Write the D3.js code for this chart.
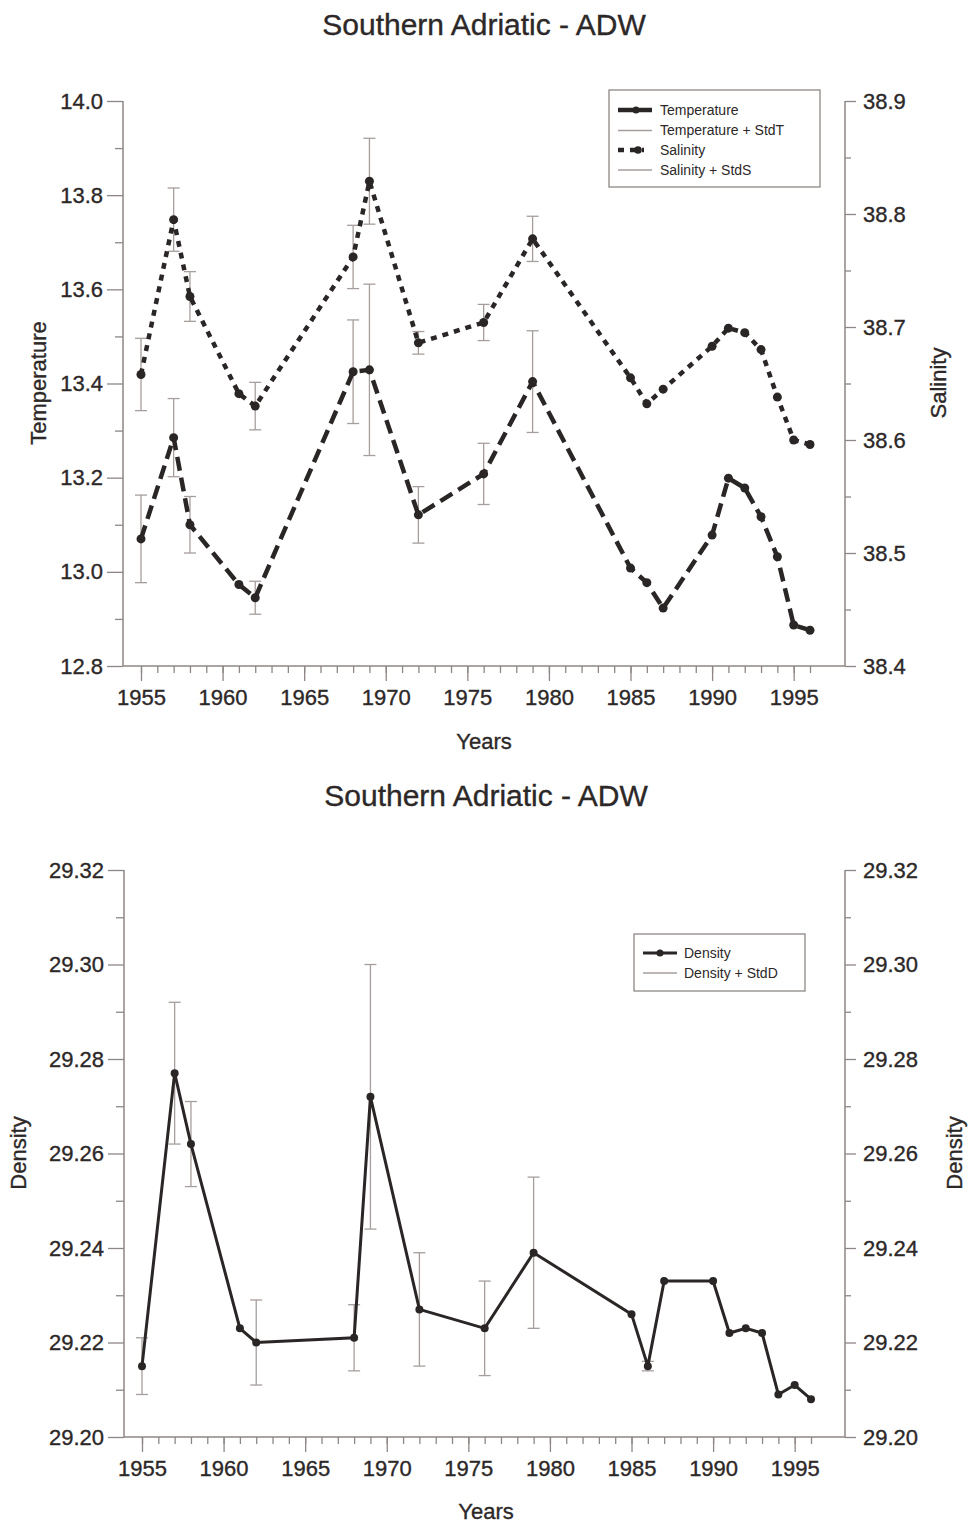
<!DOCTYPE html>
<html>
<head>
<meta charset="utf-8">
<script src="https://cdn.jsdelivr.net/npm/d3@7"></script>
<style>
  html, body { margin: 0; padding: 0; background: #fff; }
  svg { display: block; }
  text { font-family: "Liberation Sans", Arial, Helvetica, sans-serif; fill: #2d2828; }
</style>
</head>
<body>
<svg id="chart" width="969" height="1525"></svg>
<script>
// ---------- DATA ----------
const years = [1955,1957,1958,1961,1962,1968,1969,1972,1976,1979,1985,1986,1987,1990,1991,1992,1993,1994,1995,1996];
const temperature = [13.070,13.285,13.100,12.973,12.945,13.425,13.429,13.121,13.208,13.404,13.008,12.977,12.923,13.078,13.199,13.178,13.117,13.032,12.887,12.876];
const stdT = [0.093,0.083,0.060,null,0.035,0.110,0.182,0.060,0.065,0.108,null,null,null,null,null,null,null,null,null,null];
const salinity = [38.658,38.795,38.727,38.641,38.630,38.762,38.829,38.686,38.704,38.778,38.655,38.632,38.645,38.683,38.699,38.695,38.680,38.638,38.600,38.596];
const stdS = [0.032,0.028,0.022,null,0.021,0.028,0.038,0.010,0.016,0.020,null,null,null,null,null,null,null,null,null,null];
const density = [29.215,29.277,29.262,29.223,29.220,29.221,29.272,29.227,29.223,29.239,29.226,29.215,29.233,29.233,29.222,29.223,29.222,29.209,29.211,29.208];
const stdD = [0.006,0.015,0.009,null,0.009,0.007,0.028,0.012,0.010,0.016,null,0.001,null,null,null,null,null,null,null,null];

const yearTicks = [1955,1960,1965,1970,1975,1980,1985,1990,1995];
const tempTicks = ["12.8","13.0","13.2","13.4","13.6","13.8","14.0"];
const salTicks = ["38.4","38.5","38.6","38.7","38.8","38.9"];
const denTicks = ["29.20","29.22","29.24","29.26","29.28","29.30","29.32"];

const titleText = "Southern Adriatic - ADW";
const legendTop = ["Temperature","Temperature + StdT","Salinity","Salinity + StdS"];
const legendBottom = ["Density","Density + StdD"];

// ---------- STYLE ----------
const axisColor = "#8e8785";
const errColor = "#a69e9c";
const lineColor = "#2b2626";
const textColor = "#2d2828";
const tickFont = 22;
const svg = d3.select("#chart");

const rows = years.map((y,i)=>({year:y, t:temperature[i], st:stdT[i], s:salinity[i], ss:stdS[i], d:density[i], sd:stdD[i]}));

function range(a,b,step){ const out=[]; const n=Math.round((b-a)/step); for(let i=0;i<=n;i++) out.push(+(a+i*step).toFixed(4)); return out; }

function styleText(sel){ sel.attr("font-size",tickFont).attr("fill",textColor).attr("stroke",textColor).attr("stroke-width",0.35); }

function drawAxes(g, x, yL, yR, opt){
  const L = opt.left, R = opt.right, T = opt.top, B = opt.bottom;
  g.append("line").attr("x1",L).attr("x2",L).attr("y1",T).attr("y2",B).attr("stroke",axisColor).attr("stroke-width",1.5);
  g.append("line").attr("x1",R).attr("x2",R).attr("y1",T).attr("y2",B).attr("stroke",axisColor).attr("stroke-width",1.5);
  g.append("line").attr("x1",L).attr("x2",R).attr("y1",B).attr("y2",B).attr("stroke",axisColor).attr("stroke-width",1.5);

  const minorYears = d3.range(1955,1997);
  const xa = g.append("g").attr("transform",`translate(0,${B})`)
    .call(d3.axisBottom(x).tickValues(minorYears).tickSize(7).tickFormat(""));
  xa.select(".domain").remove();
  xa.selectAll("line").attr("stroke",axisColor).attr("stroke-width",1.3);
  const xb = g.append("g").attr("transform",`translate(0,${B})`)
    .call(d3.axisBottom(x).tickValues(yearTicks).tickSize(15).tickPadding(8).tickFormat(d3.format("d")));
  xb.select(".domain").remove();
  xb.selectAll("line").attr("stroke",axisColor).attr("stroke-width",1.3);
  styleText(xb.selectAll("text"));

  const la = g.append("g").attr("transform",`translate(${L},0)`)
    .call(d3.axisLeft(yL).tickValues(opt.leftMinor).tickSize(8).tickFormat(""));
  la.select(".domain").remove();
  la.selectAll("line").attr("stroke",axisColor).attr("stroke-width",1.3);
  const lb = g.append("g").attr("transform",`translate(${L},0)`)
    .call(d3.axisLeft(yL).tickValues(opt.leftTicks.map(Number)).tickSize(16).tickPadding(4)
      .tickFormat((d,i)=>opt.leftTicks[i]));
  lb.select(".domain").remove();
  lb.selectAll("line").attr("stroke",axisColor).attr("stroke-width",1.3);
  styleText(lb.selectAll("text"));

  const ra = g.append("g").attr("transform",`translate(${R},0)`)
    .call(d3.axisRight(yR).tickValues(opt.rightMinor).tickSize(6).tickFormat(""));
  ra.select(".domain").remove();
  ra.selectAll("line").attr("stroke",axisColor).attr("stroke-width",1.3);
  const rb = g.append("g").attr("transform",`translate(${R},0)`)
    .call(d3.axisRight(yR).tickValues(opt.rightTicks.map(Number)).tickSize(11).tickPadding(7)
      .tickFormat((d,i)=>opt.rightTicks[i]));
  rb.select(".domain").remove();
  rb.selectAll("line").attr("stroke",axisColor).attr("stroke-width",1.3);
  styleText(rb.selectAll("text"));
}

function errorBars(g, data, x, y, key, skey){
  const eb = g.append("g");
  data.filter(d=>d[skey]!=null).forEach(d=>{
    const cx = x(d.year), y1 = y(d[key]+d[skey]), y2 = y(d[key]-d[skey]);
    eb.append("line").attr("x1",cx).attr("x2",cx).attr("y1",y1).attr("y2",y2).attr("stroke",errColor).attr("stroke-width",1.3);
    [y1,y2].forEach(yy=>eb.append("line").attr("x1",cx-6).attr("x2",cx+6).attr("y1",yy).attr("y2",yy).attr("stroke",errColor).attr("stroke-width",1.3));
  });
}

function label(g, txt, x, y, rot, size){
  const t = g.append("text").attr("text-anchor","middle").attr("font-size",size)
    .attr("fill",textColor).attr("stroke",textColor).attr("stroke-width",0.35).text(txt);
  if(rot) t.attr("transform",`translate(${x},${y}) rotate(-90)`); else t.attr("x",x).attr("y",y);
  return t;
}

// ================= TOP CHART =================
const topG = svg.append("g");
const x1 = d3.scaleLinear().domain([1955,1996]).range([141,810]);
const yT = d3.scaleLinear().domain([12.8,14.0]).range([666,101]);
const yS = d3.scaleLinear().domain([38.4,38.9]).range([666,101]);

label(topG, titleText, 484, 35, false, 30);

drawAxes(topG, x1, yT, yS, {left:123,right:845,top:101,bottom:666,
  leftTicks:tempTicks, leftMinor:range(12.9,13.9,0.2),
  rightTicks:salTicks, rightMinor:range(38.45,38.85,0.1)});

errorBars(topG, rows, x1, yT, "t", "st");
errorBars(topG, rows, x1, yS, "s", "ss");

const lineT = d3.line().x(d=>x1(d.year)).y(d=>yT(d.t));
const lineS = d3.line().x(d=>x1(d.year)).y(d=>yS(d.s));
topG.append("path").datum(rows).attr("d",lineT).attr("fill","none").attr("stroke",lineColor)
  .attr("stroke-width",4.5).attr("stroke-dasharray","14,7");
topG.append("path").datum(rows).attr("d",lineS).attr("fill","none").attr("stroke",lineColor)
  .attr("stroke-width",4.5).attr("stroke-dasharray","6,6");
topG.append("g").selectAll("circle").data(rows).join("circle")
  .attr("cx",d=>x1(d.year)).attr("cy",d=>yT(d.t)).attr("r",4.5).attr("fill",lineColor);
topG.append("g").selectAll("circle").data(rows).join("circle")
  .attr("cx",d=>x1(d.year)).attr("cy",d=>yS(d.s)).attr("r",4.5).attr("fill",lineColor);

label(topG, "Temperature", 46, 383, true, 22);
label(topG, "Salinity", 946, 383, true, 22);
label(topG, "Years", 484, 749, false, 22);

const lg = topG.append("g");
lg.append("rect").attr("x",609).attr("y",90).attr("width",211).attr("height",97).attr("fill","#fff").attr("stroke",axisColor).attr("stroke-width",1.3);
const lgY = [110,130.5,150,170];
legendTop.forEach((name,i)=>{
  const yy = lgY[i];
  if(i===0){
    lg.append("line").attr("x1",618).attr("x2",652).attr("y1",yy).attr("y2",yy).attr("stroke",lineColor).attr("stroke-width",4.5).attr("stroke-dasharray","16,4");
    lg.append("circle").attr("cx",636).attr("cy",yy).attr("r",3.5).attr("fill",lineColor);
  } else if(i===2){
    lg.append("line").attr("x1",618).attr("x2",644).attr("y1",yy).attr("y2",yy).attr("stroke",lineColor).attr("stroke-width",4.5).attr("stroke-dasharray","6,6");
    lg.append("circle").attr("cx",638).attr("cy",yy).attr("r",3.8).attr("fill",lineColor);
  } else {
    lg.append("line").attr("x1",618).attr("x2",652).attr("y1",yy).attr("y2",yy).attr("stroke",errColor).attr("stroke-width",1.3);
  }
  lg.append("text").attr("x",660).attr("y",yy).attr("dy","0.35em").attr("font-size",14).attr("fill",textColor).text(name);
});

// ================= BOTTOM CHART =================
const botG = svg.append("g");
const x2 = d3.scaleLinear().domain([1955,1996]).range([142,811]);
const yD = d3.scaleLinear().domain([29.20,29.32]).range([1437,870]);

label(botG, titleText, 486, 806, false, 30);

drawAxes(botG, x2, yD, yD, {left:124,right:845,top:870,bottom:1437,
  leftTicks:denTicks, leftMinor:range(29.21,29.31,0.02),
  rightTicks:denTicks, rightMinor:range(29.21,29.31,0.02)});

errorBars(botG, rows, x2, yD, "d", "sd");
const lineD = d3.line().x(d=>x2(d.year)).y(d=>yD(d.d));
botG.append("path").datum(rows).attr("d",lineD).attr("fill","none").attr("stroke",lineColor).attr("stroke-width",3);
botG.append("g").selectAll("circle").data(rows).join("circle")
  .attr("cx",d=>x2(d.year)).attr("cy",d=>yD(d.d)).attr("r",4).attr("fill",lineColor);

label(botG, "Density", 26, 1153, true, 22);
label(botG, "Density", 962, 1153, true, 22);
label(botG, "Years", 486, 1519, false, 22);

const lg2 = botG.append("g");
lg2.append("rect").attr("x",634).attr("y",934).attr("width",171).attr("height",57).attr("fill","#fff").attr("stroke",axisColor).attr("stroke-width",1.3);
legendBottom.forEach((name,i)=>{
  const yy = [953,973][i];
  if(i===0){
    lg2.append("line").attr("x1",643).attr("x2",677).attr("y1",yy).attr("y2",yy).attr("stroke",lineColor).attr("stroke-width",3);
    lg2.append("circle").attr("cx",660).attr("cy",yy).attr("r",3.5).attr("fill",lineColor);
  } else {
    lg2.append("line").attr("x1",643).attr("x2",677).attr("y1",yy).attr("y2",yy).attr("stroke",errColor).attr("stroke-width",1.3);
  }
  lg2.append("text").attr("x",684).attr("y",yy).attr("dy","0.35em").attr("font-size",14).attr("fill",textColor).text(name);
});
</script>
</body>
</html>
